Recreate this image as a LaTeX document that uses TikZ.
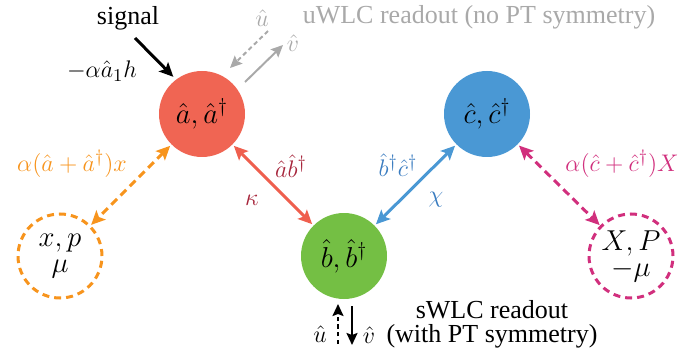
\documentclass[tikz,border=0pt]{standalone}
\usepackage[no-math]{fontspec}
\setmainfont{Liberation Serif}
\usetikzlibrary{arrows.meta}
\definecolor{cA}{HTML}{F06553}
\definecolor{cB}{HTML}{74BF44}
\definecolor{cC}{HTML}{4A98D4}
\definecolor{cOr}{HTML}{F7941D}
\definecolor{cMg}{HTML}{D12F7D}
\definecolor{cRedA}{HTML}{EF5F4E}
\definecolor{cDR}{HTML}{A6243A}
\definecolor{cBl}{HTML}{3A7CC0}
\definecolor{cGr}{HTML}{A9A9A9}
\tikzset{
  mode/.style={circle, minimum size=43pt, inner sep=0pt, outer sep=0pt, font=\fontsize{14.5}{16}\selectfont},
  dmode/.style={circle, minimum size=42pt, inner sep=0pt, outer sep=0pt, line width=1.5pt, dash pattern=on 3.5pt off 2.5pt, align=center, font=\fontsize{14}{15}\selectfont},
  darr/.style={line width=1.5pt, {Stealth[length=7pt,width=6.5pt,inset=1.5pt]}-{Stealth[length=7pt,width=6.5pt,inset=1.5pt]}, shorten <=1pt, shorten >=1pt},
  dsh/.style={dash pattern=on 4pt off 2.5pt},
  lbl/.style={inner sep=0pt},
}
\begin{document}
\begin{tikzpicture}[x=0.5pt,y=-0.5pt, font=\fontsize{13}{15}\selectfont]
\useasboundingbox (0,0) rectangle (680,358);
% modes
\node[mode, fill=cA] (A) at (202,114) {$\hat a,\hat a^\dagger$};
\node[mode, fill=cC] (C) at (487,114) {$\hat c,\hat c^\dagger$};
\node[mode, fill=cB] (B) at (344,256) {$\hat b,\hat b^\dagger$};
\node[dmode, draw=cOr] (XP) at (60,256) {$x,p$\\[-2pt]$\mu$};
\node[dmode, draw=cMg] (XPb) at (631,256) {$X,P$\\[-2pt]$-\mu$};
% couplings
\draw[darr, cRedA] (A) -- (B);
\draw[darr, cC] (B) -- (C);
\draw[darr, dsh, cOr] (A) -- (XP);
\draw[darr, dsh, cMg] (C) -- (XPb);
% labels
\node[lbl, text=cOr] (lx) at (72,164) {$\alpha(\hat a+\hat a^\dagger)x$};
\node[lbl, text=cMg] (lX) at (622,164) {$\alpha(\hat c+\hat c^\dagger)X$};
\node[lbl, text=cDR] (lab) at (291,166) {$\hat a\hat b^\dagger$};
\node[lbl, text=cDR] (lk) at (252,200) {$\kappa$};
\node[lbl, text=cBl] (lbc) at (398,165) {$\hat b^\dagger\hat c^\dagger$};
\node[lbl, text=cBl] (lchi) at (436,200) {$\chi$};
% signal
\node[lbl] (sigt) at (128,18) {signal};
\node[lbl] (sigh) at (102,71) {$-\alpha\hat a_1 h$};
\coordinate (s0) at (135,38);
\draw[line width=1.5pt, -{Stealth[length=7pt,width=6.5pt,inset=1.5pt]}, shorten >=2pt] (s0) -- (A.127);
% uWLC readout
\coordinate (u0) at (268,31);
\coordinate (u1) at (230,68);
\coordinate (v0) at (245,82);
\coordinate (v1) at (283,45);
\draw[cGr, line width=1pt, dash pattern=on 2.2pt off 1.6pt, -{Stealth[length=6pt,width=5.5pt,inset=1pt]}] (u0) -- (u1);
\draw[cGr, line width=1pt, -{Stealth[length=6pt,width=5.5pt,inset=1pt]}] (v0) -- (v1);
\node[lbl, text=cGr] (ut) at (262,18) {$\hat u$};
\node[lbl, text=cGr] (vt) at (293,43) {$\hat v$};
\node[lbl, text=cGr] (uw) at (479,17) {uWLC readout (no PT symmetry)};
% sWLC readout
\coordinate (bu0) at (338,344);
\coordinate (bu1) at (338,304);
\coordinate (bv0) at (352,306);
\coordinate (bv1) at (352,345);
\draw[line width=1pt, dash pattern=on 2.2pt off 1.6pt, -{Stealth[length=6pt,width=5.5pt,inset=1pt]}] (bu0) -- (bu1);
\draw[line width=1pt, -{Stealth[length=6pt,width=5.5pt,inset=1pt]}] (bv0) -- (bv1);
\node[lbl] (bu) at (320,334) {$\hat u$};
\node[lbl] (bv) at (369,335) {$\hat v$};
\node[lbl] (sw1) at (492,310) {sWLC readout};
\node[lbl] (sw2) at (492,336) {(with PT symmetry)};
\end{tikzpicture}
\end{document}
